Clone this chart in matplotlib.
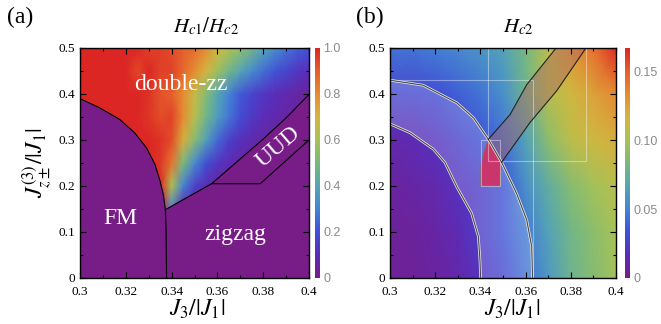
import numpy as np
import matplotlib
matplotlib.use('Agg')
import matplotlib.pyplot as plt
from matplotlib.colors import LinearSegmentedColormap
from matplotlib.patches import Polygon
import matplotlib.patheffects as pe

plt.rcParams['mathtext.fontset'] = 'stix'
plt.rcParams['font.family'] = ['Liberation Serif', 'DejaVu Serif']

# ---------------- data ----------------
# panel (a): Hc1/Hc2 ratio field (double-zz region)
xa = [0.300, 0.305, 0.310, 0.315, 0.320, 0.325, 0.330, 0.335, 0.340, 0.345, 0.350,
      0.355, 0.360, 0.365, 0.370, 0.375, 0.380, 0.385, 0.390, 0.395, 0.400]
ya = [0.15, 0.20, 0.25, 0.30, 0.35, 0.40, 0.45, 0.50]
za_015 = [1, 1, 1, 1, 1, 1, 1, 1, 0.30, 0.05, 0.04, 0.04, 0.04, 0.04, 0.04, 0.04, 0.04, 0.04, 0.04, 0.04, 0.04]
za_020 = [1, 1, 1, 1, 1, 1, 1, 1, 0.60, 0.30, 0.16, 0.09, 0.05, 0.04, 0.04, 0.04, 0.04, 0.04, 0.04, 0.04, 0.04]
za_025 = [1, 1, 1, 1, 1, 1, 1, 0.97, 0.85, 0.50, 0.32, 0.20, 0.13, 0.09, 0.06, 0.05, 0.04, 0.04, 0.04, 0.04, 0.04]
za_030 = [1, 1, 1, 1, 1, 1, 1, 0.98, 0.93, 0.72, 0.53, 0.38, 0.25, 0.16, 0.11, 0.08, 0.06, 0.05, 0.04, 0.04, 0.04]
za_035 = [1, 1, 1, 1, 1, 1, 0.97, 0.93, 0.95, 0.80, 0.64, 0.48, 0.37, 0.27, 0.19, 0.14, 0.10, 0.08, 0.06, 0.05, 0.04]
za_040 = [1, 1, 1, 1, 1, 1, 0.98, 0.92, 0.90, 0.80, 0.67, 0.52, 0.40, 0.30, 0.22, 0.17, 0.13, 0.10, 0.08, 0.06, 0.05]
za_045 = [1, 1, 1, 1, 1, 0.94, 1, 0.95, 0.95, 0.88, 0.80, 0.70, 0.58, 0.48, 0.40, 0.32, 0.26, 0.21, 0.17, 0.13, 0.10]
za_050 = [1, 1, 1, 1, 1, 1, 0.95, 0.96, 0.93, 0.90, 0.87, 0.80, 0.70, 0.62, 0.55, 0.48, 0.40, 0.33, 0.27, 0.23, 0.20]

# phase boundaries (a)
fm_x = [0.300, 0.3087, 0.3175, 0.3240, 0.3291, 0.3328, 0.3350, 0.3364, 0.3373, 0.3376, 0.3378]
fm_y = [0.390, 0.3696, 0.3442, 0.3150, 0.2826, 0.2464, 0.2100, 0.1810, 0.1486, 0.1000, 0.0000]
zz_x = [0.3373, 0.3575, 0.3700, 0.3800, 0.3900, 0.4000]
zz_y = [0.1486, 0.2050, 0.2590, 0.3020, 0.3480, 0.3990]
uud_x = [0.3575, 0.3787, 0.4000]
uud_y = [0.2050, 0.2050, 0.3000]

# panel (b): Hc2 field
xb = [0.30, 0.31, 0.32, 0.33, 0.34, 0.35, 0.36, 0.37, 0.38, 0.39, 0.40]
yb = [0.0, 0.1, 0.2, 0.3, 0.4, 0.5]
zb_00 = [0.006, 0.006, 0.008, 0.012, 0.020, 0.030, 0.045, 0.060, 0.078, 0.088, 0.098]
zb_01 = [0.006, 0.007, 0.010, 0.015, 0.025, 0.035, 0.047, 0.065, 0.080, 0.090, 0.100]
zb_02 = [0.008, 0.010, 0.013, 0.019, 0.025, 0.035, 0.055, 0.072, 0.088, 0.098, 0.106]
zb_03 = [0.012, 0.015, 0.020, 0.027, 0.035, 0.045, 0.065, 0.090, 0.108, 0.115, 0.120]
zb_04 = [0.030, 0.030, 0.032, 0.038, 0.045, 0.055, 0.078, 0.105, 0.115, 0.125, 0.135]
zb_05 = [0.045, 0.045, 0.048, 0.052, 0.058, 0.065, 0.082, 0.108, 0.128, 0.143, 0.165]

outer_x = [0.300, 0.3147, 0.3295, 0.3369, 0.3435, 0.3494, 0.3560, 0.3605, 0.3627, 0.3631]
outer_y = [0.430, 0.4190, 0.3810, 0.3485, 0.3015, 0.2515, 0.1840, 0.1260, 0.0680, 0.0000]
inner_x = [0.300, 0.3088, 0.3192, 0.3243, 0.3295, 0.3361, 0.3391, 0.3398, 0.3401]
inner_y = [0.335, 0.3160, 0.2800, 0.2510, 0.1985, 0.1406, 0.0899, 0.0390, 0.0000]
bandL_x = [0.3435, 0.3531, 0.3605, 0.3735]
bandL_y = [0.3015, 0.3550, 0.4203, 0.5000]
bandR_x = [0.3494, 0.3619, 0.3738, 0.3867]
bandR_y = [0.2515, 0.3377, 0.4072, 0.5000]
pink_x = [0.3401, 0.3401, 0.3412, 0.3425, 0.3437, 0.3465, 0.3492, 0.3488]
pink_y = [0.200, 0.240, 0.268, 0.290, 0.3005, 0.278, 0.252, 0.200]

cbar_a_ticks = [0, 0.2, 0.4, 0.6, 0.8, 1.0]
cbar_a_labels = ['0', '0.2', '0.4', '0.6', '0.8', '1.0']
cbar_b_ticks = [0, 0.05, 0.10, 0.15]
cbar_b_labels = ['0', '0.05', '0.10', '0.15']
vmax_b = 0.167

xticks = [0.30, 0.32, 0.34, 0.36, 0.38, 0.40]
xticklabels = ['0.3', '0.32', '0.34', '0.36', '0.38', '0.4']
yticks = [0, 0.1, 0.2, 0.3, 0.4, 0.5]
yticklabels = ['0', '0.1', '0.2', '0.3', '0.4', '0.5']

# ---------------- style ----------------
rainbow = LinearSegmentedColormap.from_list('mrainbow', [
    (0.00, '#781C87'), (0.10, '#5A2DBA'), (0.20, '#4050D6'), (0.30, '#4585D4'),
    (0.40, '#55A6B4'), (0.50, '#7ABA7C'), (0.60, '#A8C255'), (0.70, '#D2B740'),
    (0.80, '#E68C33'), (0.90, '#E5602C'), (1.00, '#DC2624')])
purple = rainbow(0.0)

W, H = 661, 324
fig = plt.figure(figsize=(W / 100, H / 100), dpi=100)

def rect(l, t, w, h):
    return [l / W, 1 - (t + h) / H, w / W, h / H]

def style_axes(ax):
    ax.set_xlim(0.3, 0.4)
    ax.set_ylim(0, 0.5)
    ax.set_xticks(xticks)
    ax.set_xticklabels(xticklabels)
    ax.set_yticks(yticks)
    ax.set_yticklabels(yticklabels)
    ax.set_xticks(np.arange(0.31, 0.40, 0.02), minor=True)
    ax.set_yticks(np.arange(0.05, 0.5, 0.1), minor=True)
    ax.tick_params(which='both', direction='in', top=True, right=True, labelsize=9.5)
    ax.tick_params(axis='x', pad=5.5)
    ax.tick_params(axis='y', pad=3.5)
    ax.tick_params(which='major', length=4, width=0.8)
    ax.tick_params(which='minor', length=2.5, width=0.8)
    for s in ax.spines.values():
        s.set_linewidth(1.0)

def colorbar(l, ticks, labels, vmax):
    cax = fig.add_axes(rect(l, 48, 5, 230))
    grad = np.linspace(0, 1, 256).reshape(-1, 1)
    cax.imshow(grad, cmap=rainbow, aspect='auto', origin='lower', extent=[0, 1, 0, vmax])
    for s in cax.spines.values():
        s.set_visible(False)
    cax.set_xticks([])
    cax.yaxis.tick_right()
    cax.set_yticks(ticks)
    cax.set_yticklabels(labels)
    cax.tick_params(axis='y', length=0, pad=2.5, labelsize=9, labelcolor='#8a8a8a')
    for t in cax.get_yticklabels():
        t.set_fontfamily('Liberation Sans')
    cax.set_ylim(0, vmax)

# ---------------- panel (a) ----------------
axa = fig.add_axes(rect(80, 48, 229, 230))
axa.set_facecolor(purple)
Za = np.array([za_015, za_020, za_025, za_030, za_035, za_040, za_045, za_050])
Xa, Ya = np.meshgrid(xa, ya)
axa.pcolormesh(Xa, Ya, Za, shading='gouraud', cmap=rainbow, vmin=0, vmax=1)
low_x = fm_x[:9] + zz_x[1:] + [0.4, 0.3]
low_y = fm_y[:9] + zz_y[1:] + [0.0, 0.0]
axa.add_patch(Polygon(np.column_stack([low_x, low_y]), closed=True, fc=purple, ec='none'))
axa.plot(fm_x, fm_y, color='black', lw=0.8)
axa.plot(zz_x, zz_y, color='black', lw=0.8)
axa.plot(uud_x, uud_y, color='black', lw=0.8)
lab = dict(color='white', fontsize=17, ha='center', va='baseline')
axa.text(0.3440, 0.409, 'double-zz', **lab)
axa.text(0.3178, 0.1174, 'FM', **lab)
axa.text(0.3680, 0.0833, 'zigzag', **lab)
axa.text(0.3866, 0.2848, 'UUD', color='white', fontsize=17, ha='center', va='center',
         rotation=41, rotation_mode='anchor')
style_axes(axa)
colorbar(315, cbar_a_ticks, cbar_a_labels, 1.0)

# ---------------- panel (b) ----------------
axb = fig.add_axes(rect(390, 48, 226, 230))
Zb = np.array([zb_00, zb_01, zb_02, zb_03, zb_04, zb_05])
Xb, Yb = np.meshgrid(xb, yb)
axb.pcolormesh(Xb, Yb, Zb, shading='gouraud', cmap=rainbow, vmin=0, vmax=vmax_b)
shell = np.column_stack([outer_x + inner_x[::-1], outer_y + inner_y[::-1]])
axb.add_patch(Polygon(shell, closed=True, fc='white', alpha=0.2, ec='none'))
band = np.column_stack([bandL_x + bandR_x[::-1], bandL_y + bandR_y[::-1]])
axb.add_patch(Polygon(band, closed=True, fc='#AA6464', alpha=0.45, ec='none'))
axb.add_patch(Polygon(np.column_stack([pink_x, pink_y]), closed=True, fc='#CF3366',
                      alpha=0.95, ec='#777777', lw=0.6))
# light guide rectangles
guide = dict(color='white', alpha=0.4, lw=0.8)
axb.plot([0.300, 0.3633, 0.3633], [0.430, 0.430, 0.0], **guide)
axb.plot([0.3435, 0.3435, 0.3867, 0.3867], [0.5, 0.254, 0.254, 0.5], **guide)
axb.plot([0.3401, 0.3401, 0.3488, 0.3488, 0.3401], [0.2, 0.3, 0.3, 0.2, 0.2], **guide)
glow = [pe.Stroke(linewidth=1.9, foreground='#e8e8e8'), pe.Normal()]
axb.plot(outer_x, outer_y, color='#4a4a4a', lw=0.8, path_effects=glow)
axb.plot(inner_x, inner_y, color='#4a4a4a', lw=0.8, path_effects=glow)
axb.plot(bandL_x, bandL_y, color='#222222', lw=0.8)
axb.plot(bandR_x, bandR_y, color='#222222', lw=0.8)
style_axes(axb)
colorbar(625, cbar_b_ticks, cbar_b_labels, vmax_b)

# ---------------- labels ----------------
fig.text(20 / W, 1 - 23 / H, '(a)', fontsize=17, ha='center', va='baseline')
fig.text(370 / W, 1 - 23 / H, '(b)', fontsize=17, ha='center', va='baseline')
fig.text(206 / W, 1 - 32 / H, r'$H_{c1}/H_{c2}$', fontsize=15, ha='center', va='baseline')
fig.text(518 / W, 1 - 32 / H, r'$H_{c2}$', fontsize=15, ha='center', va='baseline')
fig.text(197 / W, 1 - 316 / H, r'$J_3/|J_1|$', fontsize=17, ha='center', va='baseline')
fig.text(512 / W, 1 - 316 / H, r'$J_3/|J_1|$', fontsize=17, ha='center', va='baseline')
fig.text(37 / W, 1 - 163 / H, r'$J^{(3)}_{z\pm}/|J_1|$', fontsize=17, ha='center', va='center',
         rotation=90)

fig.savefig('out.png', dpi=100)
